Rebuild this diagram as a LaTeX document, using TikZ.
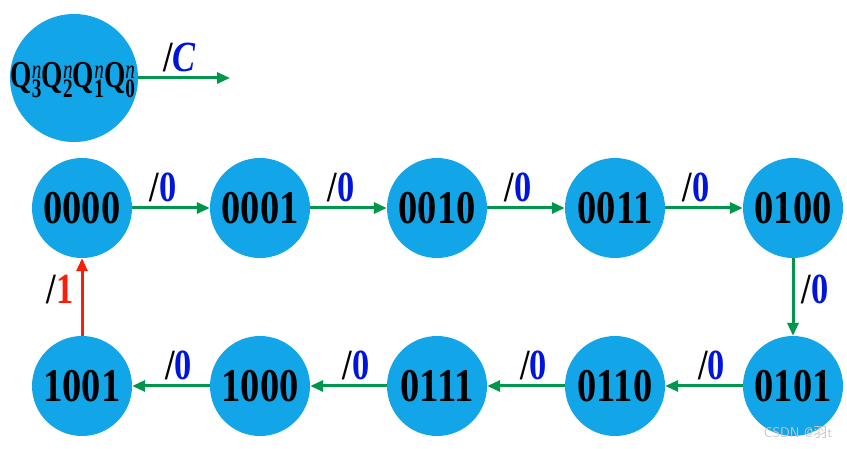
\documentclass[tikz,border=0pt]{standalone}
\usepackage{fontspec}
\setmainfont{Liberation Serif}
\newfontfamily\cjkfont{Noto Sans CJK SC}
\usetikzlibrary{arrows.meta}
\definecolor{cfill}{RGB}{18,165,232}
\definecolor{agreen}{RGB}{0,150,75}
\definecolor{ared}{RGB}{250,30,10}
\definecolor{tblue}{RGB}{0,20,220}
\begin{document}
\begin{tikzpicture}[x=1pt,y=-1pt,
  state/.style={circle,fill=cfill,minimum size=100pt,inner sep=0pt,
    font=\fontsize{47}{47}\bfseries},
  garrow/.style={draw=agreen,line width=3pt,-{Triangle[length=13pt,width=11pt]}},
  rarrow/.style={draw=ared,line width=3pt,-{Triangle[length=13pt,width=11pt]}},
  lbl/.style={font=\fontsize{43}{43}\bfseries,inner sep=1pt}]
\useasboundingbox (0,0) rectangle (847,449);
\newcommand{\st}[1]{\scalebox{0.82}[1]{#1}}
\newcommand{\zl}{\scalebox{0.8}[1]{/\textcolor{tblue}{0}}}
\newcommand{\qn}[1]{Q$^{\mathit n}_{\mathbf #1}$}
% legend
\node[circle,fill=cfill,minimum size=128pt,inner sep=0pt] (leg) at (74,78) {};
\node[inner sep=0pt] (legt) at (73,80) {\scalebox{0.72}[1]{\fontsize{38}{38}\bfseries \qn3\qn2\qn1\qn0}};
\coordinate (legend) at (230,78);
\draw[garrow] (leg.east) -- node[lbl,above=4pt,pos=0.45] {\scalebox{0.8}[1]{/\textcolor{tblue}{\itshape C}}} (legend);
% states
\node[state] (s0) at (82,208) {\st{0000}};
\node[state] (s1) at (260,208) {\st{0001}};
\node[state] (s2) at (437,208) {\st{0010}};
\node[state] (s3) at (615,208) {\st{0011}};
\node[state] (s4) at (793,208) {\st{0100}};
\node[state] (s5) at (793,386) {\st{0101}};
\node[state] (s6) at (615,386) {\st{0110}};
\node[state] (s7) at (437,386) {\st{0111}};
\node[state] (s8) at (260,386) {\st{1000}};
\node[state] (s9) at (82,386) {\st{1001}};
% transitions
\draw[garrow] (s0) -- node[lbl,above=4pt,pos=0.4] {\zl} (s1);
\draw[garrow] (s1) -- node[lbl,above=4pt,pos=0.4] {\zl} (s2);
\draw[garrow] (s2) -- node[lbl,above=4pt,pos=0.4] {\zl} (s3);
\draw[garrow] (s3) -- node[lbl,above=4pt,pos=0.4] {\zl} (s4);
\draw[garrow] (s4) -- node[lbl,right=6pt,pos=0.4] {\zl} (s5);
\draw[garrow] (s5) -- node[lbl,above=4pt,pos=0.4] {\zl} (s6);
\draw[garrow] (s6) -- node[lbl,above=4pt,pos=0.4] {\zl} (s7);
\draw[garrow] (s7) -- node[lbl,above=4pt,pos=0.4] {\zl} (s8);
\draw[garrow] (s8) -- node[lbl,above=4pt,pos=0.4] {\zl} (s9);
\draw[rarrow] (s9) -- node[lbl,left=6pt,pos=0.6] {\scalebox{0.8}[1]{/\textcolor{ared}{1}}} (s0);
% watermark
\node[text=gray!45,font=\sffamily\fontsize{14}{14}\selectfont,inner sep=0pt] (wm) at (798,433) {CSDN @{\cjkfont 羽}t};
\end{tikzpicture}
\end{document}
